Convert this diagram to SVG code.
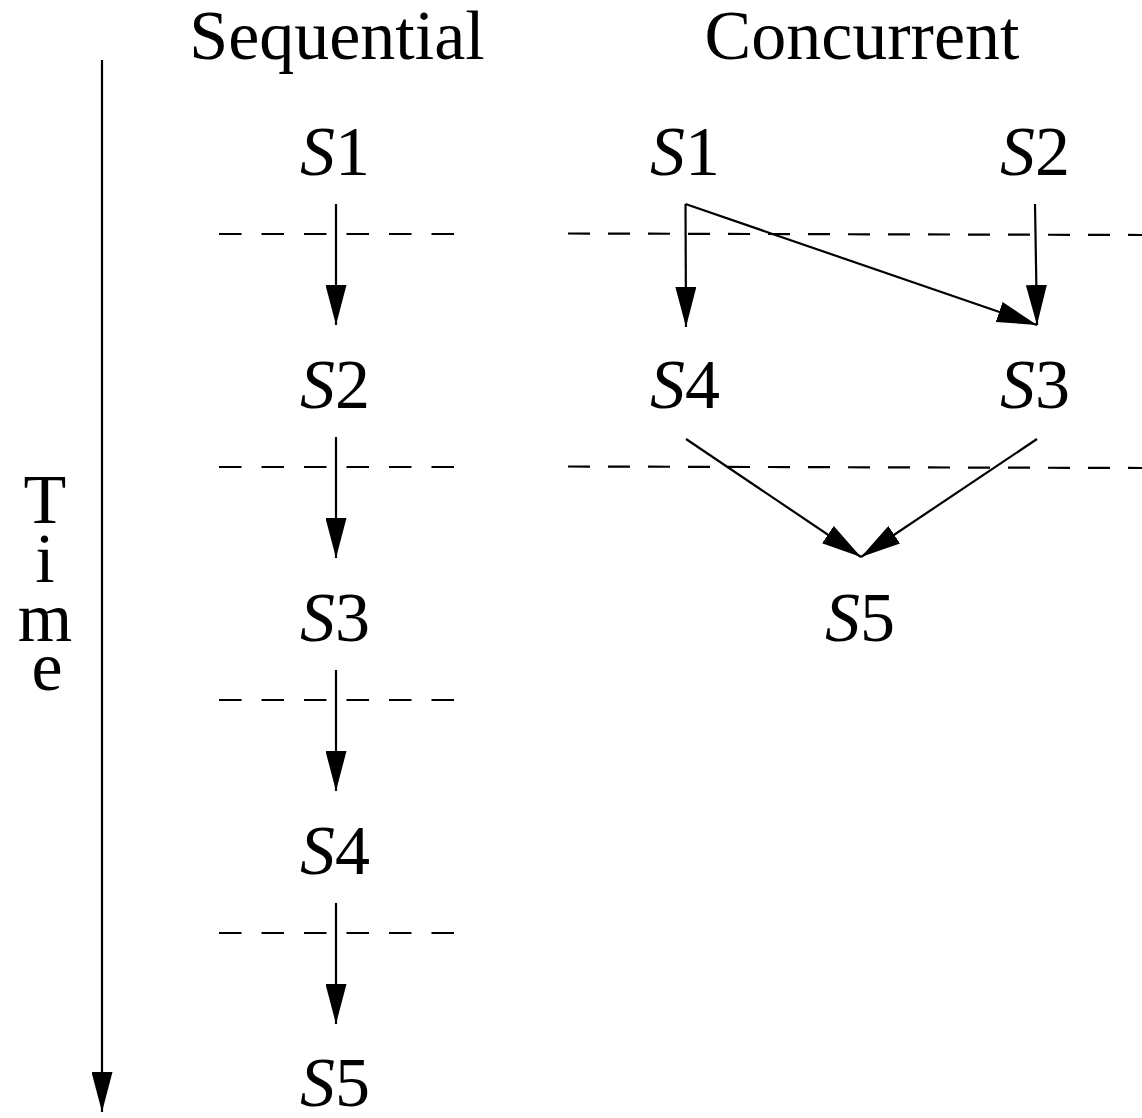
<svg xmlns="http://www.w3.org/2000/svg" width="1142" height="1118" viewBox="0 0 1142 1118">
<style>
text{font-family:"Liberation Serif","Times New Roman",serif;font-size:70px;fill:#000}
.i{font-style:italic}
.c{stroke:#000;stroke-width:2.2;fill:none}
.ds{stroke:#000;stroke-width:2.2;fill:none;stroke-dasharray:22.5 20}
.dc{stroke:#000;stroke-width:2.2;fill:none;stroke-dasharray:22 18}
</style>
<defs>
<marker id="ah" markerUnits="userSpaceOnUse" markerWidth="40" markerHeight="21" refX="40" refY="10.5" orient="auto" viewBox="0 0 40 21">
<path d="M0,0 L40,10.5 L0,21 z" fill="#000"/>
</marker>
</defs>
<rect width="1142" height="1118" fill="#fff"/>
<g id="titles">
<text x="337" y="59" text-anchor="middle">Sequential</text>
<text x="862" y="59" text-anchor="middle">Concurrent</text>
</g>
<g id="time-axis">
<line class="c" x1="102" y1="60" x2="102" y2="1112" marker-end="url(#ah)"/>
<text text-anchor="middle"><tspan x="45" y="523">T</tspan><tspan x="45" y="582">i</tspan><tspan x="45" y="641">m</tspan><tspan x="47" y="690">e</tspan></text>
</g>
<g id="seq-S1"><text x="300" y="175"><tspan class="i">S</tspan>1</text></g>
<g id="seq-S2"><text x="300" y="408"><tspan class="i">S</tspan>2</text></g>
<g id="seq-S3"><text x="300" y="641"><tspan class="i">S</tspan>3</text></g>
<g id="seq-S4"><text x="300" y="874"><tspan class="i">S</tspan>4</text></g>
<g id="seq-S5"><text x="300" y="1106"><tspan class="i">S</tspan>5</text></g>
<g id="con-S1"><text x="650" y="175"><tspan class="i">S</tspan>1</text></g>
<g id="con-S2"><text x="1000" y="175"><tspan class="i">S</tspan>2</text></g>
<g id="con-S4"><text x="650" y="408"><tspan class="i">S</tspan>4</text></g>
<g id="con-S3"><text x="1000" y="408"><tspan class="i">S</tspan>3</text></g>
<g id="con-S5"><text x="825" y="641"><tspan class="i">S</tspan>5</text></g>
<g id="dividers">
<line class="ds" x1="219" y1="234" x2="455" y2="234"/>
<line class="ds" x1="219" y1="467" x2="455" y2="467"/>
<line class="ds" x1="219" y1="700" x2="455" y2="700"/>
<line class="ds" x1="219" y1="933" x2="455" y2="933"/>
<line class="dc" x1="568" y1="233.5" x2="1142" y2="235"/>
<line class="dc" x1="568" y1="466.5" x2="1142" y2="468"/>
</g>
<g id="connectors">
<line class="c" x1="336" y1="204" x2="336" y2="325" marker-end="url(#ah)"/>
<line class="c" x1="336" y1="437" x2="336" y2="558" marker-end="url(#ah)"/>
<line class="c" x1="336" y1="670" x2="336" y2="791" marker-end="url(#ah)"/>
<line class="c" x1="336" y1="903" x2="336" y2="1024" marker-end="url(#ah)"/>
<line class="c" x1="685.5" y1="204" x2="686" y2="327" marker-end="url(#ah)"/>
<line class="c" x1="685.5" y1="204" x2="1037" y2="325" marker-end="url(#ah)"/>
<line class="c" x1="1035" y1="204" x2="1037" y2="325" marker-end="url(#ah)"/>
<line class="c" x1="686" y1="439" x2="861" y2="557" marker-end="url(#ah)"/>
<line class="c" x1="1037" y1="439" x2="861" y2="557" marker-end="url(#ah)"/>
</g>
</svg>
